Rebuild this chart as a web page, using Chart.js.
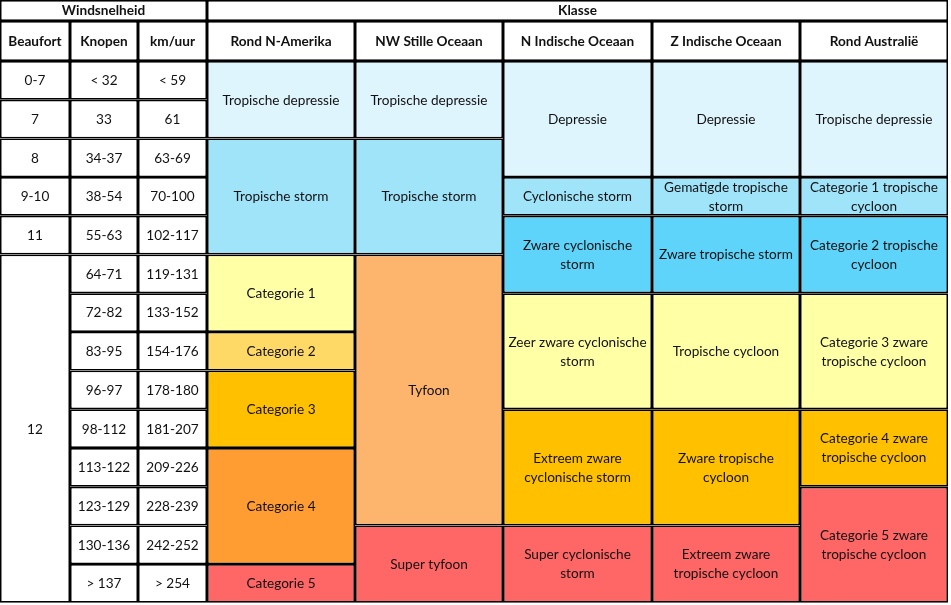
<!DOCTYPE html>
<html><head><meta charset="utf-8">
<script src="https://cdn.jsdelivr.net/npm/chart.js@4"></script>
<style>html,body{margin:0;padding:0;background:#fff}#wrap{position:relative;width:951px;height:605px}</style>
</head><body><div id="wrap"><canvas id="c"></canvas></div>
<script>
// ---------------- data ----------------
const groupHeaders = ['Windsnelheid', 'Klasse'];
const groupSpans = [3, 5];
const columnHeaders = ['Beaufort', 'Knopen', 'km/uur', 'Rond N-Amerika', 'NW Stille Oceaan', 'N Indische Oceaan', 'Z Indische Oceaan', 'Rond Australië'];
const beaufort = [['0-7', 1], ['7', 1], ['8', 1], ['9-10', 1], ['11', 1], ['12', 9]];
const knopen = ['< 32', '33', '34-37', '38-54', '55-63', '64-71', '72-82', '83-95', '96-97', '98-112', '113-122', '123-129', '130-136', '> 137'];
const kmPerUur = ['< 59', '61', '63-69', '70-100', '102-117', '119-131', '133-152', '154-176', '178-180', '181-207', '209-226', '228-239', '242-252', '> 254'];
// [label, number of rows spanned, class]
const rondNAmerika = [['Tropische depressie', 2, 'td'], ['Tropische storm', 3, 'ts'], ['Categorie 1', 2, 'c1'], ['Categorie 2', 1, 'c2'], ['Categorie 3', 2, 'c3'], ['Categorie 4', 3, 'c4'], ['Categorie 5', 1, 'c5']];
const nwStilleOceaan = [['Tropische depressie', 2, 'td'], ['Tropische storm', 3, 'ts'], ['Tyfoon', 7, 'ty'], ['Super tyfoon', 2, 'c5']];
const nIndischeOceaan = [['Depressie', 3, 'td'], ['Cyclonische storm', 1, 'ts'], ['Zware cyclonische\nstorm', 2, 'sts'], ['Zeer zware cyclonische\nstorm', 3, 'c1'], ['Extreem zware\ncyclonische storm', 3, 'c3'], ['Super cyclonische\nstorm', 2, 'c5']];
const zIndischeOceaan = [['Depressie', 3, 'td'], ['Gematigde tropische\nstorm', 1, 'ts'], ['Zware tropische storm', 2, 'sts'], ['Tropische cycloon', 3, 'c1'], ['Zware tropische\ncycloon', 3, 'c3'], ['Extreem zware\ntropische cycloon', 2, 'c5']];
const rondAustralie = [['Tropische depressie', 3, 'td'], ['Categorie 1 tropische\ncycloon', 1, 'ts'], ['Categorie 2 tropische\ncycloon', 2, 'sts'], ['Categorie 3 zware\ntropische cycloon', 3, 'c1'], ['Categorie 4 zware\ntropische cycloon', 2, 'c3'], ['Categorie 5 zware\ntropische cycloon', 3, 'c5']];

// ---------------- layout / style ----------------
const COL_PX = [70, 68, 69, 148, 148, 149, 148, 148];
const HEAD1_PX = 21, HEAD2_PX = 40, ROW_PX = 38.7, CANVAS_H = 605, CANVAS_W = 951;
const CLASS_COLORS = {
  td: '#DFF5FD', ts: '#A0E4FA', sts: '#5FD4FA',
  c1: '#FFFFA6', c2: '#FFD966', c3: '#FFC000', c4: '#FF9D33', c5: '#FF6666', ty: '#FDB46D'
};
const FONT = 'Lato';
const FONT_PX = 13.6;

const colEdges = [0];
COL_PX.forEach(w => colEdges.push(colEdges[colEdges.length - 1] + w));
const yTop = -(HEAD1_PX + HEAD2_PX) / ROW_PX;
const yHead2 = -HEAD2_PX / ROW_PX;
const yBottom = (CANVAS_H - HEAD1_PX - HEAD2_PX) / ROW_PX;

const cells = [];
function addCell(c0, c1, r0, r1, text, color, bold) { cells.push({ c0, c1, r0, r1, text, color, bold }); }
let gc = 0;
groupHeaders.forEach((t, i) => { addCell(gc, gc + groupSpans[i], yTop, yHead2, t, '#FFFFFF', true); gc += groupSpans[i]; });
columnHeaders.forEach((t, i) => addCell(i, i + 1, yHead2, 0, t, '#FFFFFF', true));
function addColumn(ci, items) {
  let r = 0;
  items.forEach(([t, span, cls]) => { addCell(ci, ci + 1, r, r + span, t, cls ? CLASS_COLORS[cls] : '#FFFFFF', false); r += span; });
}
addColumn(0, beaufort);
addColumn(1, knopen.map(t => [t, 1]));
addColumn(2, kmPerUur.map(t => [t, 1]));
[rondNAmerika, nwStilleOceaan, nIndischeOceaan, zIndischeOceaan, rondAustralie].forEach((col, i) => addColumn(3 + i, col));

const groups = {};
cells.forEach(cell => {
  const key = cell.c0 + '-' + cell.c1;
  if (!groups[key]) {
    groups[key] = {
      data: [], backgroundColor: [], cellLabels: [], cellBold: [],
      barThickness: colEdges[cell.c1] - colEdges[cell.c0],
      borderColor: '#000', borderWidth: 1.7, borderSkipped: false, inflateAmount: 0, grouped: false
    };
  }
  const g = groups[key];
  g.data.push({ x: (colEdges[cell.c0] + colEdges[cell.c1]) / 2, y: [cell.r0, cell.r1] });
  g.backgroundColor.push(cell.color);
  g.cellLabels.push(cell.text);
  g.cellBold.push(cell.bold);
});

const cellText = {
  id: 'cellText',
  afterDatasetsDraw(chart) {
    const ctx = chart.ctx;
    ctx.save();
    ctx.fillStyle = '#111';
    ctx.textAlign = 'center';
    ctx.textBaseline = 'middle';
    chart.data.datasets.forEach((ds, di) => {
      const meta = chart.getDatasetMeta(di);
      meta.data.forEach((el, i) => {
        const p = el.getProps(['x', 'y', 'base'], true);
        const cy = (p.y + p.base) / 2;
        const lines = ds.cellLabels[i].split('\n');
        ctx.font = (ds.cellBold[i] ? 'bold ' : '') + FONT_PX + 'px ' + FONT;
        const lh = 19;
        lines.forEach((ln, k) => ctx.fillText(ln, p.x, cy + 0.5 + (k - (lines.length - 1) / 2) * lh));
      });
    });
    ctx.restore();
  }
};

new Chart(document.getElementById('c'), {
  type: 'bar',
  data: { datasets: Object.values(groups) },
  options: {
    responsive: true, maintainAspectRatio: false, animation: false, events: [],
    layout: { padding: 0 },
    plugins: { legend: { display: false }, tooltip: { enabled: false }, title: { display: false } },
    scales: {
      x: { type: 'linear', min: 0, max: CANVAS_W, offset: false, display: false },
      y: { type: 'linear', min: yTop, max: yBottom, reverse: true, display: false }
    }
  },
  plugins: [cellText]
});
</script>
</body></html>
